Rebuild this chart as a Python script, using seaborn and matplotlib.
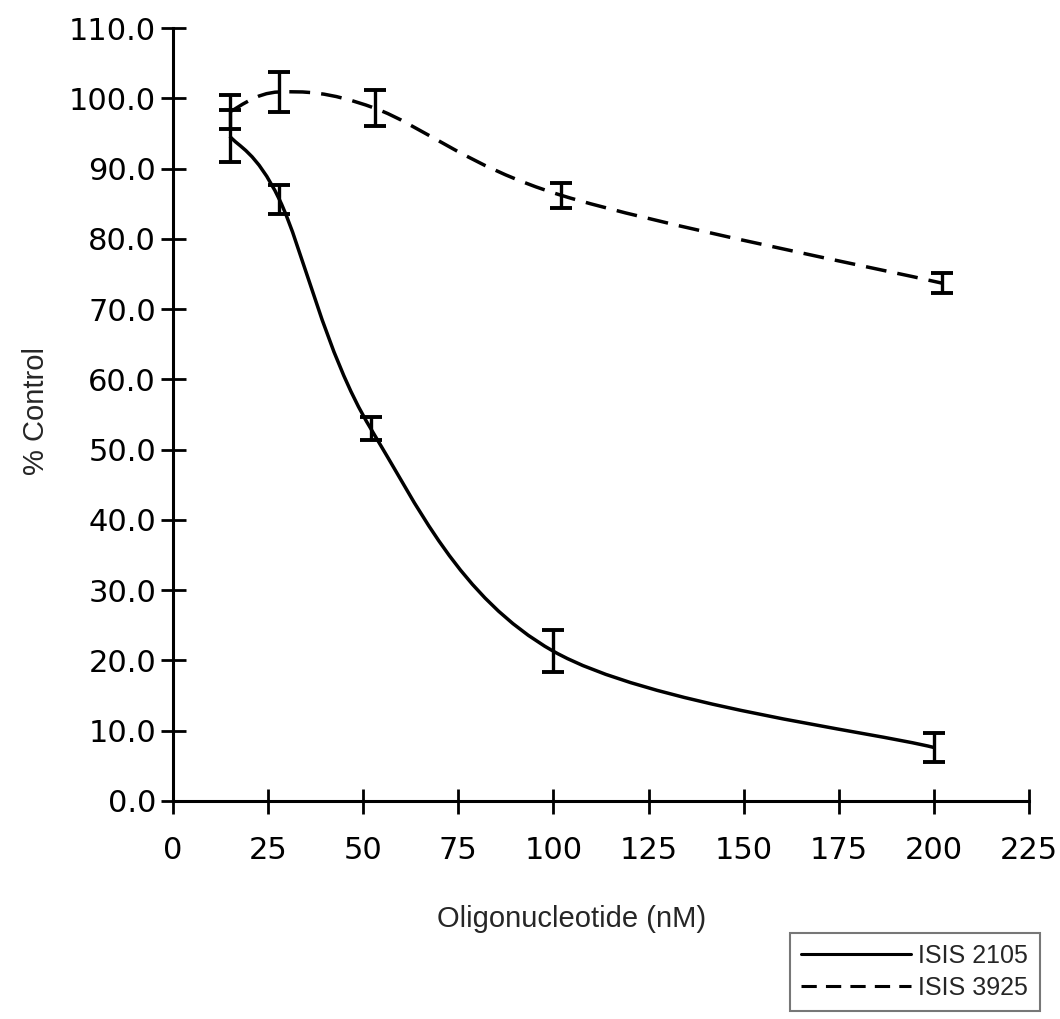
import numpy as np
import matplotlib
matplotlib.use("Agg")
import matplotlib.pyplot as plt
from matplotlib.path import Path
from matplotlib.patches import PathPatch
from matplotlib.lines import Line2D
import seaborn as sns

# values
conc_2105 = [15, 28, 52, 100, 200]
pct_2105 = [94.6, 85.6, 53.0, 21.3, 7.6]
err_2105 = [3.7, 2.0, 1.6, 3.0, 2.1]

conc_3925 = [15, 28, 53, 102, 202]
pct_3925 = [98.1, 100.9, 98.6, 86.2, 73.7]
err_3925 = [2.4, 2.8, 2.6, 1.8, 1.4]

x_ticks = [0, 25, 50, 75, 100, 125, 150, 175, 200, 225]
y_ticks = [0, 10, 20, 30, 40, 50, 60, 70, 80, 90, 100, 110]
labels = ["ISIS 2105", "ISIS 3925"]


def smooth_path(xs, ys):
    """Excel-like smoothed line: cubic Bezier segments through the points"""
    pts = np.column_stack([xs, ys]).astype(float)
    ext = np.vstack([pts[0], pts, pts[-1]])
    verts = [tuple(pts[0])]
    codes = [Path.MOVETO]
    for i in range(len(pts) - 1):
        p0, p1, p2, p3 = ext[i], ext[i + 1], ext[i + 2], ext[i + 3]
        c1 = p1 + (p2 - p0) / 6.0
        c2 = p2 - (p3 - p1) / 6.0
        verts += [tuple(c1), tuple(c2), tuple(p2)]
        codes += [Path.CURVE4] * 3
    return Path(verts, codes)


sns.set_style("ticks")
plt.rcParams['font.family'] = ['Liberation Sans', 'DejaVu Sans']

fig = plt.figure(figsize=(10.6, 10.19), dpi=100)
ax = fig.add_axes([0.163, 0.214, 0.808, 0.7585])

dash_style = (0, (6.0, 3.2))
for xs, ys, es, ls in [(conc_2105, pct_2105, err_2105, '-'),
                       (conc_3925, pct_3925, err_3925, dash_style)]:
    ax.add_patch(PathPatch(smooth_path(xs, ys), facecolor='none',
                           edgecolor='black', lw=2.5, linestyle=ls,
                           capstyle='butt'))
    ax.errorbar(xs, ys, yerr=es, fmt='none', ecolor='black',
                elinewidth=2.4, capsize=8, capthick=2.8)

ax.set_xlim(0, 225)
ax.set_ylim(0, 110)
ax.set_xticks(x_ticks)
ax.set_yticks(y_ticks)
ax.set_yticklabels([f"{v:.1f}" for v in y_ticks])
ax.tick_params(axis='both', direction='inout', length=18, width=2,
               labelsize=22, colors='black', labelfontfamily='DejaVu Sans')
ax.tick_params(axis='x', pad=16)
ax.tick_params(axis='y', pad=3)
sns.despine(ax=ax)
for s in ['left', 'bottom']:
    ax.spines[s].set_linewidth(2.2)
    ax.spines[s].set_color('black')

ax.set_xlabel("Oligonucleotide (nM)", fontsize=21)
ax.set_ylabel("% Control", fontsize=21)
ax.xaxis.set_label_coords(0.466, -0.135)
ax.yaxis.set_label_coords(-0.143, 0.505)

handles = [Line2D([], [], color='black', lw=2.2, linestyle='-'),
           Line2D([], [], color='black', lw=2.2, linestyle=(0, (5.0, 3.0)))]
leg = fig.legend(handles, labels, loc='upper left',
                 bbox_to_anchor=(0.745, 0.0844), fontsize=18,
                 handlelength=4.4, handletextpad=0.3, frameon=True,
                 fancybox=False, borderpad=0.45, labelspacing=0.3,
                 borderaxespad=0)
leg.get_frame().set_edgecolor('#555555')
leg.get_frame().set_linewidth(1.5)

plt.savefig('out.png', dpi=100)
plt.close()
